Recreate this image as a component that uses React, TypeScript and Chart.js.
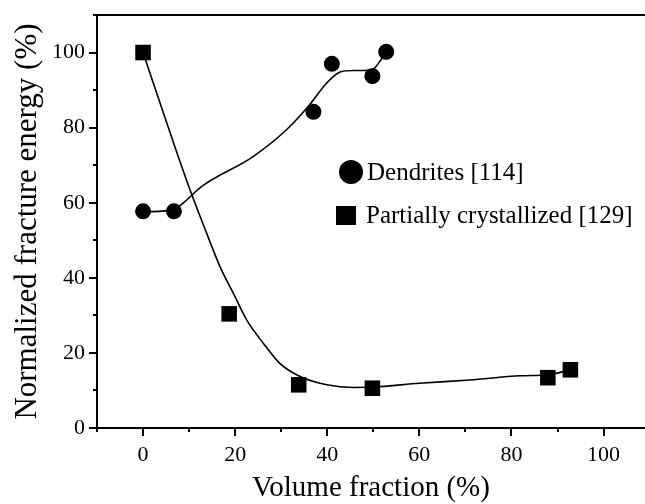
import React, { useEffect, useRef } from "react";
import { Chart, registerables } from "chart.js";

Chart.register(...registerables);

// Measured data points
const dendritesX = [0, 6.7, 37, 41, 49.8, 52.8];
const dendritesY = [57.7, 57.7, 84.2, 97, 93.7, 100.2];
const crystX = [0, 18.7, 33.8, 49.8, 87.9, 92.8];
const crystY = [100, 30.4, 11.5, 10.6, 13.4, 15.5];

// Fitted guide curves
const dendFitX = [0, 6.7, 8.3, 12.7, 23.9, 31.2, 35.9, 39.9, 42.8, 45.7, 48, 50, 51.5, 52.8];
const dendFitY = [57.5, 58.3, 59.5, 64.3, 72.3, 79.5, 85.7, 91.9, 94.8, 95.2, 95.2, 95.6, 97.8, 100.2];
const crystFitX = [0, 7, 10.6, 13.8, 16.7, 19.6, 22.5, 26.1, 29.7, 34.1, 39.9, 45.7, 50, 60, 71, 82, 88, 92.8];
const crystFitY = [100, 74.6, 62.1, 51.9, 43, 35.9, 28.8, 22.6, 17.2, 13.7, 11.5, 10.8, 10.9, 11.9, 12.8, 13.9, 14.2, 15.5];

const X_MIN = -10;
const X_MAX = 109;
const Y_MIN = 0;
const Y_MAX = 110;
const xTickValues = [-10, 0, 10, 20, 30, 40, 50, 60, 70, 80, 90, 100];
const yTickValues = [0, 10, 20, 30, 40, 50, 60, 70, 80, 90, 100, 110];
const xLabelValues = [0, 20, 40, 60, 80, 100];
const yLabelValues = [0, 20, 40, 60, 80, 100];

const legendLabels = ["Dendrites [114]", "Partially crystallized [129]"];
const xTitle = "Volume fraction (%)";
const yTitle = "Normalized fracture energy (%)";

const FONT = '"Liberation Serif", "Times New Roman", serif';

const zip = (xs: number[], ys: number[]) => xs.map((x, i) => ({ x, y: ys[i] }));

const framePlugin = {
  id: "frameTicks",
  afterDraw(chart: any) {
    const { ctx, chartArea } = chart;
    const xs = chart.scales.x;
    const ys = chart.scales.y;
    ctx.save();
    ctx.strokeStyle = "#000";
    ctx.lineWidth = 2;
    ctx.beginPath();
    ctx.moveTo(chartArea.left - 1, chartArea.top);
    ctx.lineTo(chartArea.right, chartArea.top);
    ctx.stroke();
    xTickValues.forEach((v) => {
      const p = Math.round(xs.getPixelForValue(v));
      const len = v % 20 === 0 ? 8 : 4;
      ctx.beginPath();
      ctx.moveTo(p, chartArea.bottom);
      ctx.lineTo(p, chartArea.bottom + len);
      ctx.stroke();
    });
    yTickValues.forEach((v) => {
      const p = Math.round(ys.getPixelForValue(v));
      const len = v % 20 === 0 ? 8 : 4;
      ctx.beginPath();
      ctx.moveTo(chartArea.left, p);
      ctx.lineTo(chartArea.left - len, p);
      ctx.stroke();
    });
    // legend
    ctx.fillStyle = "#000";
    ctx.beginPath();
    ctx.arc(351, 172, 12, 0, Math.PI * 2);
    ctx.fill();
    ctx.fillRect(336, 206, 20, 19);
    ctx.font = `25px ${FONT}`;
    ctx.textBaseline = "middle";
    ctx.textAlign = "left";
    ctx.fillText(legendLabels[0], 367, 173);
    ctx.fillText(legendLabels[1], 366, 216);
    ctx.restore();
  },
};

export default function App() {
  const ref = useRef<HTMLCanvasElement | null>(null);
  useEffect(() => {
    if (!ref.current) return;
    const chart = new Chart(ref.current, {
      type: "scatter",
      data: {
        datasets: [
          {
            label: "dendFit",
            data: zip(dendFitX, dendFitY),
            showLine: true,
            pointRadius: 0,
            borderColor: "#000",
            borderWidth: 1.6,
            cubicInterpolationMode: "monotone",
          },
          {
            label: "crystFit",
            data: zip(crystFitX, crystFitY),
            showLine: true,
            pointRadius: 0,
            borderColor: "#000",
            borderWidth: 1.6,
            cubicInterpolationMode: "monotone",
          },
          {
            label: legendLabels[0],
            data: zip(dendritesX, dendritesY),
            pointStyle: "circle",
            pointRadius: 8,
            backgroundColor: "#000",
            borderColor: "#000",
            borderWidth: 0,
          },
          {
            label: legendLabels[1],
            data: zip(crystX, crystY),
            pointStyle: "rect",
            pointRadius: 11,
            backgroundColor: "#000",
            borderColor: "#000",
            borderWidth: 0,
          },
        ],
      } as any,
      options: {
        animation: false,
        responsive: false,
        devicePixelRatio: 1,
        layout: { autoPadding: false, padding: { top: 15, left: 0, right: 0, bottom: 0 } },
        plugins: { legend: { display: false }, tooltip: { enabled: false } },
        scales: {
          x: {
            type: "linear",
            min: X_MIN,
            max: X_MAX,
            afterBuildTicks: (s: any) => {
              s.ticks = xTickValues.map((v) => ({ value: v }));
            },
            afterFit: (s: any) => {
              s.height = 76;
              s.paddingLeft = 0;
              s.paddingRight = 0;
            },
            grid: { display: true, drawOnChartArea: false, drawTicks: false },
            border: { display: true, color: "#000", width: 2 },
            ticks: {
              padding: 14,
              color: "#000",
              font: { family: FONT, size: 22 },
              maxRotation: 0,
              autoSkip: false,
              callback: (v: any) => (xLabelValues.includes(Number(v)) ? String(v) : ""),
            },
            title: {
              display: true,
              text: xTitle,
              color: "#000",
              font: { family: FONT, size: 29, lineHeight: 1 },
              padding: { top: 0, bottom: 1 },
            },
          },
          y: {
            type: "linear",
            min: Y_MIN,
            max: Y_MAX,
            afterBuildTicks: (s: any) => {
              s.ticks = yTickValues.map((v) => ({ value: v }));
            },
            afterFit: (s: any) => {
              s.width = 97;
              s.paddingTop = 0;
              s.paddingBottom = 0;
            },
            grid: { display: true, drawOnChartArea: false, drawTicks: false },
            border: { display: true, color: "#000", width: 2 },
            ticks: {
              padding: 12,
              color: "#000",
              font: { family: FONT, size: 22 },
              autoSkip: false,
              callback: (v: any) => (yLabelValues.includes(Number(v)) ? String(v) : ""),
            },
            title: {
              display: true,
              text: yTitle,
              color: "#000",
              font: { family: FONT, size: 31, lineHeight: 1 },
              padding: { top: 12, bottom: 0 },
            },
          },
        },
      },
      plugins: [framePlugin],
    });
    return () => chart.destroy();
  }, []);
  return (
    <div style={{ position: "absolute", left: 0, top: 0, width: 645, height: 504, background: "#fff", overflow: "hidden" }}>
      <canvas ref={ref} width={645} height={504} style={{ width: 645, height: 504 }} />
    </div>
  );
}
